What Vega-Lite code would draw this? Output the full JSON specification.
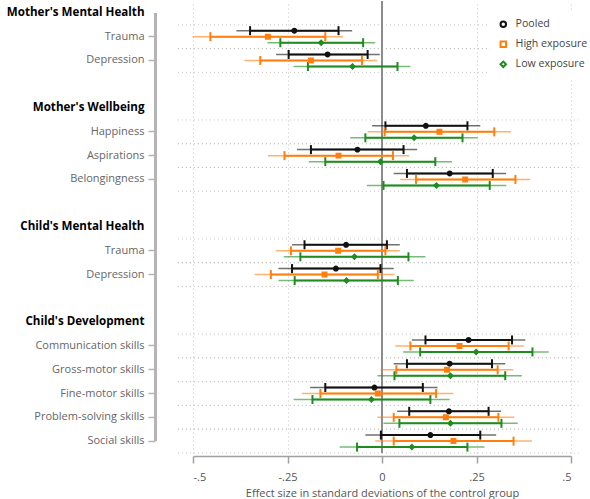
{
  "$schema": "https://vega.github.io/schema/vega-lite/v6.json",
  "width": 378,
  "height": 452,
  "autosize": {"type": "none"},
  "padding": {"left": 193, "top": 1, "right": 19, "bottom": 46},
  "config": {
    "font": "Open Sans",
    "view": {"stroke": null},
    "axisY": {
      "domain": false,
      "grid": false,
      "offset": 38,
      "tickSize": 7,
      "tickWidth": 1.5,
      "tickColor": "#b4b4b4",
      "tickOpacity": {"condition": {"test": "indexof(datum.value, '|') < 0", "value": 0}, "value": 1},
      "labelExpr": "indexof(datum.value, '|') >= 0 ? split(datum.value, '|')[1] : (indexof(datum.value, 'gap') == 0 ? '' : datum.value)",
      "labelFontSize": {"condition": {"test": "indexof(datum.value, '|') < 0", "value": 11.6}, "value": 11},
      "labelPadding": 4,
      "labelLimit": 250,
      "labelColor": {"condition": {"test": "indexof(datum.value, '|') < 0", "value": "#000000"}, "value": "#666666"},
      "labelFontWeight": {"condition": {"test": "indexof(datum.value, '|') < 0", "value": "bold"}, "value": "normal"}
    }
  },
  "datasets": {
    "est": [
      {"row": "Mother's Mental Health|Trauma", "series": "Pooled", "est": -0.232, "lo90": -0.349, "hi90": -0.115, "lo95": -0.385, "hi95": -0.079},
      {"row": "Mother's Mental Health|Trauma", "series": "High exposure", "est": -0.302, "lo90": -0.454, "hi90": -0.150, "lo95": -0.501, "hi95": -0.103},
      {"row": "Mother's Mental Health|Trauma", "series": "Low exposure", "est": -0.161, "lo90": -0.269, "hi90": -0.050, "lo95": -0.303, "hi95": -0.018},
      {"row": "Mother's Mental Health|Depression", "series": "Pooled", "est": -0.144, "lo90": -0.247, "hi90": -0.038, "lo95": -0.280, "hi95": -0.006},
      {"row": "Mother's Mental Health|Depression", "series": "High exposure", "est": -0.188, "lo90": -0.322, "hi90": -0.053, "lo95": -0.364, "hi95": -0.013},
      {"row": "Mother's Mental Health|Depression", "series": "Low exposure", "est": -0.078, "lo90": -0.196, "hi90": 0.041, "lo95": -0.234, "hi95": 0.075},
      {"row": "Mother's Wellbeing|Happiness", "series": "Pooled", "est": 0.116, "lo90": 0.009, "hi90": 0.226, "lo95": -0.026, "hi95": 0.260},
      {"row": "Mother's Wellbeing|Happiness", "series": "High exposure", "est": 0.152, "lo90": 0.007, "hi90": 0.297, "lo95": -0.038, "hi95": 0.341},
      {"row": "Mother's Wellbeing|Happiness", "series": "Low exposure", "est": 0.085, "lo90": -0.044, "hi90": 0.213, "lo95": -0.084, "hi95": 0.253},
      {"row": "Mother's Wellbeing|Aspirations", "series": "Pooled", "est": -0.065, "lo90": -0.188, "hi90": 0.057, "lo95": -0.225, "hi95": 0.093},
      {"row": "Mother's Wellbeing|Aspirations", "series": "High exposure", "est": -0.115, "lo90": -0.258, "hi90": 0.029, "lo95": -0.302, "hi95": 0.072},
      {"row": "Mother's Wellbeing|Aspirations", "series": "Low exposure", "est": -0.004, "lo90": -0.150, "hi90": 0.141, "lo95": -0.194, "hi95": 0.185},
      {"row": "Mother's Wellbeing|Belongingness", "series": "Pooled", "est": 0.179, "lo90": 0.066, "hi90": 0.293, "lo95": 0.031, "hi95": 0.328},
      {"row": "Mother's Wellbeing|Belongingness", "series": "High exposure", "est": 0.220, "lo90": 0.090, "hi90": 0.353, "lo95": 0.048, "hi95": 0.392},
      {"row": "Mother's Wellbeing|Belongingness", "series": "Low exposure", "est": 0.144, "lo90": 0.004, "hi90": 0.285, "lo95": -0.040, "hi95": 0.329},
      {"row": "Child's Mental Health|Trauma", "series": "Pooled", "est": -0.095, "lo90": -0.205, "hi90": 0.013, "lo95": -0.238, "hi95": 0.047},
      {"row": "Child's Mental Health|Trauma", "series": "High exposure", "est": -0.116, "lo90": -0.241, "hi90": 0.009, "lo95": -0.280, "hi95": 0.047},
      {"row": "Child's Mental Health|Trauma", "series": "Low exposure", "est": -0.073, "lo90": -0.216, "hi90": 0.070, "lo95": -0.260, "hi95": 0.115},
      {"row": "Child's Mental Health|Depression", "series": "Pooled", "est": -0.122, "lo90": -0.238, "hi90": -0.004, "lo95": -0.274, "hi95": 0.031},
      {"row": "Child's Mental Health|Depression", "series": "High exposure", "est": -0.152, "lo90": -0.294, "hi90": -0.011, "lo95": -0.337, "hi95": 0.033},
      {"row": "Child's Mental Health|Depression", "series": "Low exposure", "est": -0.094, "lo90": -0.231, "hi90": 0.042, "lo95": -0.274, "hi95": 0.084},
      {"row": "Child's Development|Communication skills", "series": "Pooled", "est": 0.229, "lo90": 0.115, "hi90": 0.344, "lo95": 0.079, "hi95": 0.379},
      {"row": "Child's Development|Communication skills", "series": "High exposure", "est": 0.205, "lo90": 0.075, "hi90": 0.335, "lo95": 0.035, "hi95": 0.375},
      {"row": "Child's Development|Communication skills", "series": "Low exposure", "est": 0.249, "lo90": 0.101, "hi90": 0.398, "lo95": 0.056, "hi95": 0.441},
      {"row": "Child's Development|Gross-motor skills", "series": "Pooled", "est": 0.179, "lo90": 0.066, "hi90": 0.291, "lo95": 0.031, "hi95": 0.326},
      {"row": "Child's Development|Gross-motor skills", "series": "High exposure", "est": 0.172, "lo90": 0.038, "hi90": 0.306, "lo95": -0.004, "hi95": 0.347},
      {"row": "Child's Development|Gross-motor skills", "series": "Low exposure", "est": 0.181, "lo90": 0.033, "hi90": 0.326, "lo95": -0.012, "hi95": 0.370},
      {"row": "Child's Development|Fine-motor skills", "series": "Pooled", "est": -0.020, "lo90": -0.150, "hi90": 0.108, "lo95": -0.190, "hi95": 0.147},
      {"row": "Child's Development|Fine-motor skills", "series": "High exposure", "est": -0.011, "lo90": -0.163, "hi90": 0.143, "lo95": -0.212, "hi95": 0.189},
      {"row": "Child's Development|Fine-motor skills", "series": "Low exposure", "est": -0.028, "lo90": -0.184, "hi90": 0.128, "lo95": -0.234, "hi95": 0.179},
      {"row": "Child's Development|Problem-solving skills", "series": "Pooled", "est": 0.177, "lo90": 0.072, "hi90": 0.282, "lo95": 0.040, "hi95": 0.315},
      {"row": "Child's Development|Problem-solving skills", "series": "High exposure", "est": 0.169, "lo90": 0.031, "hi90": 0.308, "lo95": -0.012, "hi95": 0.350},
      {"row": "Child's Development|Problem-solving skills", "series": "Low exposure", "est": 0.181, "lo90": 0.046, "hi90": 0.316, "lo95": 0.004, "hi95": 0.359},
      {"row": "Child's Development|Social skills", "series": "Pooled", "est": 0.128, "lo90": -0.003, "hi90": 0.260, "lo95": -0.044, "hi95": 0.302},
      {"row": "Child's Development|Social skills", "series": "High exposure", "est": 0.189, "lo90": 0.031, "hi90": 0.348, "lo95": -0.018, "hi95": 0.397},
      {"row": "Child's Development|Social skills", "series": "Low exposure", "est": 0.079, "lo90": -0.066, "hi90": 0.226, "lo95": -0.112, "hi95": 0.271}
    ]
  },
  "data": {"name": "est"},
  "layer": [
    {
      "transform": [{"filter": "datum.series == 'Pooled'"}],
      "mark": {"type": "rule", "color": "#c4c4c4", "strokeWidth": 1, "strokeDash": [1, 3]},
      "encoding": {
        "y": {"field": "row", "type": "nominal", "bandPosition": 0, "title": null},
        "x": {"datum": -0.54, "type": "quantitative"},
        "x2": {"datum": 0.52}
      }
    },
    {
      "transform": [{"filter": "datum.series == 'Pooled'"}],
      "mark": {"type": "rule", "color": "#c4c4c4", "strokeWidth": 1, "strokeDash": [1, 3]},
      "encoding": {
        "y": {"field": "row", "type": "nominal", "bandPosition": 1, "title": null},
        "x": {"datum": -0.54, "type": "quantitative"},
        "x2": {"datum": 0.52}
      }
    },
    {
      "mark": {"type": "rule", "color": "#8c8c8c", "strokeWidth": 2},
      "encoding": {"x": {"datum": 0, "type": "quantitative"}}
    },
    {
      "mark": {"type": "rule", "color": "#b4b4b4", "strokeWidth": 2},
      "encoding": {
        "x": {"datum": -0.6, "type": "quantitative"},
        "y": {"datum": "Mother's Mental Health", "type": "nominal"},
        "y2": {"datum": "Child's Development|Social skills"}
      }
    },
    {
      "mark": {"type": "rule", "strokeWidth": 1.5, "opacity": 0.6},
      "encoding": {
        "y": {
          "field": "row",
          "type": "nominal",
          "title": null,
          "scale": {
            "domain": [
              "Mother's Mental Health", "Mother's Mental Health|Trauma", "Mother's Mental Health|Depression", "gap1",
              "Mother's Wellbeing", "Mother's Wellbeing|Happiness", "Mother's Wellbeing|Aspirations", "Mother's Wellbeing|Belongingness", "gap2",
              "Child's Mental Health", "Child's Mental Health|Trauma", "Child's Mental Health|Depression", "gap3",
              "Child's Development", "Child's Development|Communication skills", "Child's Development|Gross-motor skills",
              "Child's Development|Fine-motor skills", "Child's Development|Problem-solving skills", "Child's Development|Social skills"
            ],
            "paddingInner": 0,
            "paddingOuter": 0
          }
        },
        "yOffset": {"field": "series", "type": "nominal", "sort": ["Pooled", "High exposure", "Low exposure"], "scale": {"paddingInner": 0, "paddingOuter": 0.48}},
        "x": {
          "field": "lo95",
          "type": "quantitative",
          "scale": {"domain": [-0.5, 0.5], "nice": false, "zero": false},
          "axis": {
            "title": "Effect size in standard deviations of the control group",
            "values": [-0.5, -0.25, 0, 0.25, 0.5],
            "labelExpr": "datum.value == -0.5 ? '-.5' : datum.value == -0.25 ? '-.25' : datum.value == 0 ? '0' : datum.value == 0.25 ? '.25' : '.5'",
            "offset": 3,
            "domainColor": "#a0a0a0",
            "domainWidth": 1.5,
            "tickColor": "#a0a0a0",
            "tickWidth": 1.5,
            "tickSize": 7,
            "labelFontSize": 11,
            "labelColor": "#555555",
            "labelPadding": 8,
            "titleFontSize": 11,
            "titleFontWeight": "normal",
            "titleColor": "#555555",
            "titlePadding": 5,
            "grid": true,
            "gridColor": "#c4c4c4",
            "gridDash": [1, 3],
            "gridWidth": 1
          }
        },
        "x2": {"field": "hi95"},
        "stroke": {
          "field": "series",
          "type": "nominal",
          "sort": ["Pooled", "High exposure", "Low exposure"],
          "scale": {"range": ["#111111", "#ff7f0e", "#1e8c1e"]},
          "legend": null
        }
      }
    },
    {
      "mark": {"type": "rule", "strokeWidth": 2},
      "encoding": {
        "y": {"field": "row", "type": "nominal", "title": null},
        "yOffset": {"field": "series", "type": "nominal", "sort": ["Pooled", "High exposure", "Low exposure"]},
        "x": {"field": "lo90", "type": "quantitative"},
        "x2": {"field": "hi90"},
        "stroke": {"field": "series", "type": "nominal", "sort": ["Pooled", "High exposure", "Low exposure"], "legend": null}
      }
    },
    {
      "mark": {"type": "tick", "size": 9, "thickness": 2, "opacity": 1},
      "encoding": {
        "y": {"field": "row", "type": "nominal", "title": null},
        "yOffset": {"field": "series", "type": "nominal", "sort": ["Pooled", "High exposure", "Low exposure"]},
        "x": {"field": "lo90", "type": "quantitative"},
        "fill": {
          "field": "series",
          "type": "nominal",
          "sort": ["Pooled", "High exposure", "Low exposure"],
          "scale": {"range": ["#111111", "#ff7f0e", "#1e8c1e"]},
          "legend": null
        }
      }
    },
    {
      "mark": {"type": "tick", "size": 9, "thickness": 2, "opacity": 1},
      "encoding": {
        "y": {"field": "row", "type": "nominal", "title": null},
        "yOffset": {"field": "series", "type": "nominal", "sort": ["Pooled", "High exposure", "Low exposure"]},
        "x": {"field": "hi90", "type": "quantitative"},
        "fill": {"field": "series", "type": "nominal", "sort": ["Pooled", "High exposure", "Low exposure"], "legend": null}
      }
    },
    {
      "mark": {"type": "point", "filled": false, "size": 12, "strokeWidth": 2.5, "opacity": 1},
      "encoding": {
        "y": {"field": "row", "type": "nominal", "title": null},
        "yOffset": {"field": "series", "type": "nominal", "sort": ["Pooled", "High exposure", "Low exposure"]},
        "x": {"field": "est", "type": "quantitative"},
        "color": {
          "field": "series",
          "type": "nominal",
          "scale": {"domain": ["Pooled", "High exposure", "Low exposure"], "range": ["#111111", "#ff7f0e", "#1e8c1e"]},
          "legend": {
            "title": null,
            "orient": "none",
            "legendX": 297,
            "legendY": 10,
            "fillColor": "white",
            "padding": 8,
            "symbolSize": 30,
            "symbolStrokeWidth": 2,
            "labelFontSize": 10.6,
            "labelColor": "#444444",
            "labelOffset": 7,
            "rowPadding": 5
          }
        },
        "shape": {
          "field": "series",
          "type": "nominal",
          "scale": {"domain": ["Pooled", "High exposure", "Low exposure"], "range": ["circle", "square", "diamond"]},
          "legend": {
            "title": null,
            "orient": "none",
            "legendX": 297,
            "legendY": 10,
            "fillColor": "white",
            "padding": 8,
            "symbolSize": 30,
            "symbolStrokeWidth": 2,
            "labelFontSize": 10.6,
            "labelColor": "#444444",
            "labelOffset": 7,
            "rowPadding": 5
          }
        }
      }
    }
  ]
}
